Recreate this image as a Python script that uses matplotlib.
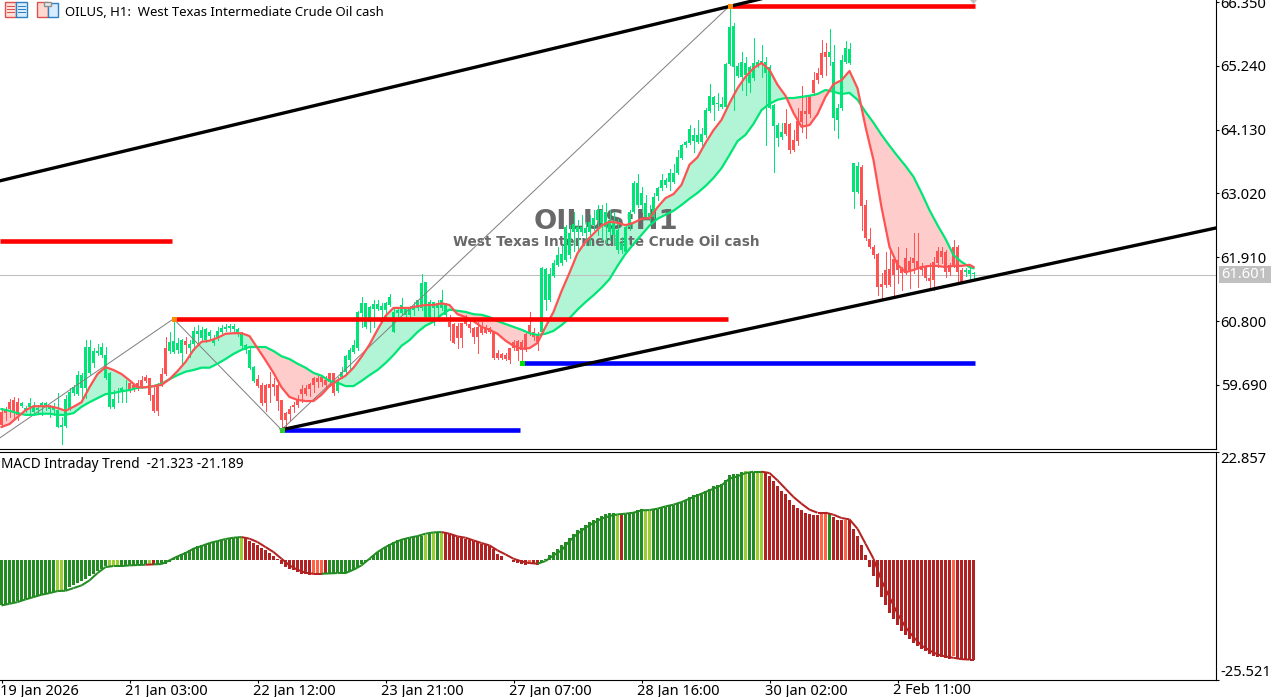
# plot.py - OILUS H1 chart with MA cloud and MACD pane

import matplotlib
matplotlib.use("Agg")
import matplotlib.pyplot as plt
from matplotlib.collections import LineCollection
from matplotlib.patches import Rectangle, Polygon
from matplotlib.transforms import ScaledTranslation
import numpy as np

W, H = 1285, 697
PANE_RIGHT = 1216
MAIN_BOTTOM = 449
SUB_TOP = 452
SUB_BOTTOM = 680

opens = [
    59.22,59.25,59.39,59.43,59.39,59.32,59.24,59.30,59.22,59.25,
    59.30,59.32,59.27,59.25,58.96,58.96,58.98,59.27,59.55,59.53,
    59.64,59.64,59.90,60.07,60.24,60.21,59.81,59.31,59.31,59.55,
    59.58,59.58,59.72,59.69,59.72,59.77,59.83,59.81,59.51,59.69,
    59.88,60.33,60.28,60.26,60.30,60.25,60.46,60.33,60.40,60.58,
    60.51,60.47,60.54,60.42,60.51,60.61,60.66,60.68,60.66,60.58,
    60.37,60.30,59.99,59.76,59.79,59.69,59.69,59.71,59.71,59.69,
    59.43,59.20,59.27,59.34,59.43,59.62,59.64,59.71,59.81,59.81,
    59.83,59.78,59.90,59.90,59.58,59.83,59.92,60.12,60.26,60.33,
    60.94,60.70,60.78,61.01,61.01,61.00,61.00,61.08,60.61,60.94,
    60.94,60.91,60.91,61.00,61.03,61.03,60.87,60.87,61.03,61.03,
    61.03,60.91,60.79,60.75,60.72,60.77,60.87,60.75,60.68,60.70,
    60.70,60.70,60.68,60.61,60.25,60.23,60.21,60.33,60.44,60.46,
    60.44,60.58,60.73,60.61,60.56,60.61,61.17,61.17,61.58,61.77,
    61.81,61.86,61.95,62.35,62.35,62.35,62.33,62.35,62.47,62.56,
    62.51,62.44,62.35,62.30,62.04,62.04,62.00,62.44,62.70,62.82,
    62.82,62.61,62.59,62.61,62.98,63.12,63.17,63.22,63.22,63.38,
    63.64,63.86,63.90,63.93,63.91,63.91,64.04,64.46,64.56,64.58,
    64.53,64.53,65.27,65.22,65.06,65.05,65.08,64.94,65.03,65.24,
    65.29,65.12,64.51,64.19,63.98,64.00,64.25,64.23,63.95,64.28,
    64.46,64.46,64.70,64.99,65.12,65.46,65.48,65.39,64.33,64.30,
    64.51,65.31,65.29,63.05,63.05,63.48,62.82,62.23,62.09,61.97,
    61.44,61.69,61.71,61.88,61.86,61.71,61.90,61.84,61.90,61.84,
    61.76,61.76,61.55,61.83,62.02,62.02,62.00,61.78,62.09,62.09,
    61.69,61.65,61.62,61.62,
]
highs = [
    59.29,59.30,59.45,59.48,59.46,59.39,59.32,59.46,59.39,59.34,
    59.39,59.39,59.34,59.37,59.55,59.13,59.51,59.64,59.69,59.93,
    59.90,60.47,60.47,60.33,60.40,60.42,60.35,59.92,59.60,59.64,
    59.65,59.77,59.74,59.71,59.77,59.85,59.86,59.81,59.69,59.72,
    59.98,60.52,60.61,60.84,60.51,60.49,60.52,60.47,60.70,60.73,
    60.70,60.68,60.65,60.56,60.70,60.73,60.75,60.75,60.75,60.68,
    60.61,60.40,60.35,60.02,59.86,59.72,59.71,59.92,59.81,59.77,
    59.43,59.22,59.32,59.39,59.52,59.69,59.69,59.72,59.83,59.85,
    59.86,59.85,59.90,59.90,59.83,60.00,60.21,60.33,60.47,60.97,
    61.22,61.12,61.07,61.17,61.17,61.12,61.14,61.27,61.03,61.05,
    61.20,61.04,61.07,61.14,61.17,61.62,61.48,61.17,61.14,61.17,
    61.34,61.12,60.91,60.77,60.77,60.77,60.91,60.82,60.70,60.79,
    60.79,60.73,60.70,60.61,60.30,60.25,60.25,60.33,60.47,60.47,
    60.47,60.61,60.96,60.68,60.61,61.74,61.72,61.72,61.86,62.09,
    62.12,62.47,62.47,62.70,62.56,62.65,62.53,62.65,62.73,62.82,
    62.82,62.86,62.73,62.70,62.58,62.26,62.47,62.73,63.24,63.36,
    63.13,63.00,62.82,63.02,63.13,63.36,63.29,63.45,63.53,63.78,
    63.88,63.93,64.21,64.16,64.30,64.16,64.51,64.92,64.72,64.77,
    64.70,65.29,66.30,65.98,65.29,65.48,65.39,65.24,65.72,65.34,
    65.60,65.39,65.26,64.58,64.25,64.25,64.49,64.25,64.12,64.51,
    64.89,64.70,64.73,65.13,65.20,65.69,65.64,65.88,65.60,64.58,
    65.43,65.67,65.64,63.55,63.57,63.52,62.91,62.42,62.12,61.98,
    61.64,62.00,62.09,61.88,62.09,61.74,62.07,61.92,62.33,62.33,
    61.81,61.78,61.81,61.92,62.09,62.09,62.04,61.81,62.21,62.12,
    61.72,61.72,61.72,61.65,
]
lows = [
    58.96,59.08,59.13,59.11,59.08,59.30,59.22,59.16,59.16,59.20,
    59.16,59.25,59.13,59.16,58.96,58.66,58.96,59.25,59.51,59.51,
    59.46,59.46,59.88,60.00,60.21,60.18,59.79,59.29,59.29,59.39,
    59.39,59.39,59.56,59.58,59.60,59.64,59.74,59.43,59.22,59.16,
    59.67,59.86,60.25,60.25,60.25,60.08,60.25,60.18,60.30,60.42,
    60.47,60.44,60.47,60.39,60.47,60.59,60.63,60.63,60.61,60.54,
    60.32,60.25,59.97,59.74,59.65,59.34,59.24,59.39,59.51,59.26,
    58.92,58.96,59.08,59.22,59.31,59.39,59.51,59.50,59.57,59.65,
    59.67,59.64,59.67,59.52,59.57,59.81,59.90,59.95,60.25,60.30,
    60.70,60.68,60.61,60.70,61.00,60.87,60.87,61.06,60.61,60.82,
    60.91,60.87,60.87,60.91,61.00,61.00,60.85,60.85,60.73,60.91,
    61.00,60.82,60.47,60.42,60.33,60.35,60.73,60.61,60.42,60.25,
    60.58,60.59,60.59,60.14,60.14,60.14,60.12,60.07,60.30,60.12,
    60.07,60.28,60.56,60.47,60.30,60.59,61.00,61.15,61.57,61.76,
    61.78,61.84,61.90,62.02,62.02,62.30,62.12,62.12,62.39,62.30,
    62.21,62.16,62.21,62.12,61.98,61.98,61.98,62.39,62.68,62.78,
    62.70,62.59,62.53,62.59,62.91,63.08,63.13,63.08,63.20,63.36,
    63.62,63.83,63.88,63.74,63.90,63.86,64.00,64.44,64.30,64.47,
    64.51,64.47,65.26,64.47,65.05,64.82,64.73,64.79,65.00,65.22,
    65.05,63.86,64.51,63.39,63.85,63.97,64.04,63.72,63.76,63.86,
    64.09,63.98,64.35,64.73,64.94,65.05,65.08,65.25,64.12,63.98,
    64.47,65.29,65.28,62.77,63.03,62.39,62.21,62.07,61.90,61.25,
    61.20,61.39,61.41,61.25,61.46,61.34,61.62,61.37,61.64,61.39,
    61.60,61.52,61.39,61.34,61.74,61.81,61.57,61.60,61.74,61.46,
    61.48,61.58,61.50,61.55,
]
closes = [
    58.99,59.20,59.27,59.22,59.16,59.37,59.29,59.37,59.30,59.29,
    59.37,59.37,59.32,59.30,59.25,58.99,59.45,59.57,59.65,59.86,
    59.86,60.35,60.35,60.28,60.28,60.35,60.21,59.90,59.45,59.57,
    59.64,59.60,59.60,59.64,59.62,59.65,59.76,59.51,59.24,59.24,
    59.67,59.88,60.44,60.46,60.42,60.47,60.39,60.40,60.63,60.63,
    60.65,60.66,60.61,60.47,60.63,60.68,60.70,60.72,60.72,60.66,
    60.59,60.39,60.30,60.00,59.67,59.37,59.37,59.64,59.65,59.41,
    59.08,59.08,59.18,59.31,59.34,59.53,59.53,59.62,59.69,59.74,
    59.74,59.69,59.74,59.55,59.74,59.92,60.19,60.30,60.39,60.96,
    61.12,61.12,61.04,61.10,61.10,61.07,61.12,61.22,60.96,61.00,
    61.08,61.04,61.03,61.04,61.17,61.46,61.48,61.14,61.14,61.11,
    61.17,61.08,60.70,60.42,60.51,60.51,60.75,60.68,60.52,60.52,
    60.59,60.59,60.61,60.16,60.16,60.16,60.14,60.12,60.33,60.28,
    60.30,60.30,60.59,60.52,60.44,61.72,61.70,61.62,61.81,61.95,
    61.97,62.44,62.33,62.49,62.44,62.44,62.42,62.53,62.60,62.73,
    62.73,62.70,62.56,62.53,62.39,62.16,62.44,62.70,63.20,63.20,
    63.03,62.85,62.68,62.96,63.12,63.26,63.26,63.38,63.38,63.65,
    63.86,63.91,64.14,64.04,64.04,64.05,64.47,64.72,64.70,64.60,
    64.58,65.27,65.92,65.93,65.24,65.31,65.29,65.22,65.29,65.31,
    65.32,65.31,65.22,64.56,64.21,64.09,64.05,63.78,63.78,63.93,
    64.26,64.40,64.40,64.77,64.99,65.08,65.39,65.48,65.31,64.51,
    65.34,65.55,65.53,63.55,63.50,62.80,62.25,62.09,61.95,61.39,
    61.39,61.43,61.43,61.60,61.69,61.64,61.64,61.69,61.81,61.72,
    61.69,61.55,61.50,61.52,61.81,61.92,61.65,61.65,61.78,61.65,
    61.48,61.69,61.69,61.64,
]

# the two moving averages and the MACD signal, read every second bar
line_bars = list(range(0, 243, 2)) + [243]
ma_fast = [
    58.96,59.01,59.13,59.25,59.32,59.32,59.32,59.29,59.24,59.31,
    59.39,59.65,59.88,60.00,59.95,59.88,59.77,59.65,59.65,59.67,
    59.69,59.79,59.93,60.09,60.30,60.44,60.46,60.51,60.58,60.59,
    60.59,60.54,60.33,60.12,59.90,59.65,59.48,59.43,59.41,59.41,
    59.52,59.67,59.77,59.85,59.99,60.18,60.39,60.65,60.89,61.03,
    61.03,61.03,61.06,61.08,61.08,61.11,61.08,60.92,60.87,60.80,
    60.70,60.65,60.58,60.46,60.37,60.32,60.33,60.42,60.70,60.96,
    61.32,61.64,61.98,62.18,62.32,62.46,62.53,62.51,62.47,62.51,
    62.58,62.59,62.78,62.94,63.01,63.17,63.52,63.65,63.90,64.12,
    64.30,64.59,64.85,65.05,65.20,65.29,65.17,64.91,64.72,64.42,
    64.18,64.21,64.40,64.70,64.92,64.99,65.15,64.85,64.18,63.60,
    62.78,62.09,61.78,61.65,61.69,61.74,61.76,61.76,61.74,61.76,
    61.76,61.78,61.74,
]
ma_slow = [
    59.27,59.24,59.20,59.17,59.17,59.19,59.19,59.17,59.17,59.20,
    59.31,59.39,59.46,59.53,59.55,59.58,59.60,59.64,59.65,59.67,
    59.71,59.79,59.86,59.92,59.95,59.99,59.99,60.06,60.14,60.23,
    60.30,60.35,60.35,60.35,60.28,60.19,60.14,60.06,59.99,59.90,
    59.85,59.76,59.73,59.67,59.67,59.76,59.86,59.95,60.07,60.21,
    60.37,60.47,60.61,60.72,60.79,60.91,61.00,60.98,60.96,60.92,
    60.91,60.87,60.80,60.75,60.70,60.65,60.59,60.56,60.58,60.63,
    60.73,60.85,61.00,61.13,61.25,61.38,61.53,61.76,61.97,62.14,
    62.30,62.46,62.58,62.65,62.72,62.82,62.93,63.03,63.15,63.29,
    63.46,63.69,63.93,64.04,64.23,64.47,64.58,64.65,64.68,64.68,
    64.70,64.72,64.75,64.82,64.79,64.75,64.77,64.65,64.44,64.25,
    64.04,63.85,63.67,63.50,63.31,63.03,62.73,62.47,62.23,61.95,
    61.83,61.74,61.72,
]

macd_hist = [
    -9.70,-9.48,-9.20,-8.99,-8.78,-8.56,-8.35,-8.14,-7.86,-7.64,
    -7.43,-7.22,-7.01,-6.86,-6.72,-6.72,-6.37,-5.80,-5.45,-4.95,
    -4.53,-4.03,-3.54,-2.97,-2.41,-1.91,-1.42,-1.34,-1.34,-1.20,
    -1.20,-1.20,-1.13,-1.06,-1.06,-0.99,-0.99,-0.99,-1.20,-0.99,
    -0.99,-0.85,-0.42,0.42,0.85,1.27,1.70,2.12,2.55,2.83,
    3.11,3.40,3.61,3.82,3.96,4.10,4.25,4.46,4.67,4.81,
    4.81,4.67,3.96,3.54,3.04,2.55,2.12,1.42,0.85,0.14,
    -0.99,-1.56,-1.91,-2.26,-2.62,-2.97,-3.11,-3.18,-3.18,-3.18,
    -3.18,-3.11,-2.97,-2.83,-2.76,-2.76,-2.62,-2.41,-2.12,-1.56,
    -0.99,-0.50,0.21,0.92,1.63,2.12,2.69,3.26,3.75,4.10,
    4.39,4.67,4.67,4.81,4.95,5.10,5.24,5.52,5.66,5.66,
    5.66,5.80,5.52,5.17,4.81,4.60,4.46,4.25,3.96,3.75,
    3.40,3.18,2.83,2.26,1.27,0.71,-0.14,-0.14,-0.57,-0.71,
    -0.99,-1.13,-0.85,-0.99,-1.13,-0.57,0.21,0.92,1.63,2.34,
    3.04,3.75,4.67,5.52,6.23,6.79,7.29,8.00,8.35,8.92,
    9.20,9.77,9.91,9.98,9.41,9.62,9.62,9.62,10.12,10.47,
    10.76,10.33,10.33,10.76,10.83,10.97,11.18,11.39,11.68,11.89,
    12.24,12.74,13.31,13.66,13.87,14.15,14.58,15.07,15.57,15.78,
    15.99,16.84,17.91,18.26,18.26,18.61,18.75,18.40,18.61,18.40,
    18.40,18.61,17.69,16.70,15.57,14.58,13.87,12.60,11.54,11.04,
    10.47,9.91,9.62,9.48,9.48,9.77,9.77,9.91,9.06,8.49,
    8.35,8.49,8.49,6.44,4.95,3.04,0.92,-1.56,-3.54,-5.80,
    -7.93,-9.70,-11.32,-12.67,-13.94,-15.15,-16.07,-16.77,-17.62,-18.40,
    -19.04,-19.46,-20.10,-20.45,-20.59,-20.67,-20.81,-21.02,-20.45,-20.88,
    -21.23,-21.30,-21.23,-21.32,
]
# state of each histogram bar as (count, state)
macd_states = [
    (14,"g"),(2,"l"),(11,"g"),(3,"l"),(7,"g"),(1,"l"),(1,"r"),(21,"g"),(1,"l"),
    (17,"r"),(3,"o"),(1,"r"),(24,"g"),(1,"l"),(1,"g"),(1,"l"),(1,"g"),(1,"l"),
    (21,"r"),(1,"o"),(2,"r"),(19,"g"),(1,"l"),(1,"r"),(5,"g"),(2,"l"),(23,"g"),
    (1,"l"),(2,"g"),(2,"l"),(14,"r"),(2,"o"),(1,"g"),(3,"r"),(1,"o"),(26,"r"),
    (1,"o"),(5,"r"),
]
macd_signal = [
    -9.70,-9.34,-8.99,-8.42,-7.93,-7.43,-7.08,-6.65,-6.58,-6.02,
    -5.45,-4.39,-2.83,-1.56,-1.34,-1.34,-1.20,-1.13,-1.06,-0.99,
    -0.92,-0.14,0.71,1.42,2.34,2.90,3.54,3.96,4.39,4.67,
    4.81,4.46,3.75,2.69,1.63,0.21,-1.20,-2.12,-2.76,-2.97,
    -2.97,-2.90,-2.83,-2.83,-2.12,-1.20,0.21,1.63,2.69,3.54,
    4.25,4.67,5.02,5.52,5.80,5.87,5.52,4.95,4.67,4.10,
    3.54,3.04,1.98,1.13,0.21,-0.35,-0.71,-0.85,-0.28,0.92,
    1.98,3.96,5.52,6.79,7.78,8.70,9.27,9.62,9.77,9.98,
    10.47,10.54,10.83,11.32,11.68,12.24,12.95,13.66,14.37,15.07,
    15.78,17.20,17.69,18.40,18.68,18.68,18.40,16.84,15.07,13.31,
    11.89,10.62,9.98,9.98,9.55,8.85,8.56,6.58,3.40,0.21,
    -4.39,-7.93,-11.46,-14.30,-16.42,-18.19,-19.25,-20.10,-20.52,-20.81,
    -21.09,-21.19,-21.19,
]

price_ticks = [66.35, 65.24, 64.13, 63.02, 61.91, 60.80, 59.69]
last_price = 61.601
macd_range = [22.857, -25.521]
time_tick_bars = [0, 32, 64, 96, 128, 160, 192, 224]
time_labels = ["19 Jan 2026", "21 Jan 03:00", "22 Jan 12:00", "23 Jan 21:00",
               "27 Jan 07:00", "28 Jan 16:00", "30 Jan 02:00", "2 Feb 11:00"]

# drawn objects on the chart, (bar, price)
zigzag_bars = [-0.4, 43, 70, 182]
zigzag_prices = [58.77, 60.84, 58.91, 66.28]
upper_trend_bars = [-0.4, 192]
upper_trend_prices = [63.24, 66.44]
lower_trend_bars = [70, 303.6]
lower_trend_prices = [58.91, 62.42]
red_levels = [(-0.4, 42.6, 62.19), (42.6, 181.5, 60.84), (181.5, 243.4, 66.28)]
blue_levels = [(70, 129.6, 58.91), (129.6, 243.4, 60.07)]
pivot_dots = [(43, 60.84, "#ff8c00"), (70, 58.91, "#32cd32"),
              (130, 60.07, "#00e000"), (182, 66.28, "#ff8c00")]

UP = "#00e676"
DOWN = "#ff5252"
STATE_COLORS = {"g": "#228b22", "l": "#9acd32", "r": "#b22222", "o": "#ff6347"}
FONT = "Noto Sans"
BAR_WIDTH = 0.75  # 3 px of the 4 px a bar takes


def bar_xlim():
    # one bar is 4 pixels wide, first bar centred on 1.5 px
    return (0 - 1.5) / 4, (PANE_RIGHT - 1.5) / 4


def setup_pane(ax):
    ax.set_xlim(*bar_xlim())
    ax.yaxis.tick_right()
    ax.spines["left"].set_visible(False)
    ax.spines["top"].set_visible(False)
    for s in ax.spines.values():
        s.set_linewidth(0.8)


def draw_main(ax):
    setup_pane(ax)
    ax.set_ylim(58.576, 66.385)
    ax.set_xticks([])
    ax.set_yticks(price_ticks)
    ax.set_yticklabels(["%.3f" % p for p in price_ticks], fontsize=10.6, family=FONT)
    ax.tick_params(axis="y", length=2.5, width=0.8, pad=0.8)

    o, h, l, c = map(np.array, (opens, highs, lows, closes))
    bars = np.arange(len(o))
    colors = np.where(c >= o, UP, DOWN)

    mx = np.array(line_bars)
    fast = np.array(ma_fast)
    slow = np.array(ma_slow)
    ax.fill_between(mx, fast, slow, where=fast >= slow, interpolate=True,
                    color="#b2f5d6", lw=0, zorder=1)
    ax.fill_between(mx, fast, slow, where=fast <= slow, interpolate=True,
                    color="#ffcccc", lw=0, zorder=1)

    ax.axhline(last_price, color="#c0c0c0", lw=0.8, zorder=1.2)
    # watermark sits over the cloud but under the candles
    ax.text(151, 62.52, "OILUS:H1", ha="center", va="center", fontsize=19.7,
            fontweight="bold", color="#696969", zorder=1.5)
    ax.text(151.3, 62.18, "West Texas Intermediate Crude Oil cash", ha="center", va="center",
            fontsize=9.8, fontweight="bold", color="#696969", zorder=1.5)

    ax.vlines(bars, l, h, colors=colors, lw=0.72, zorder=3, antialiased=False)
    ax.bar(bars, np.maximum(np.abs(c - o), 0.02), bottom=np.minimum(o, c), width=BAR_WIDTH,
           color=colors, lw=0, zorder=3, antialiased=False)

    ax.plot(zigzag_bars, zigzag_prices, color="#808080", lw=0.72, zorder=4)
    ax.plot(mx, slow, color=UP, lw=1.6, zorder=5)
    ax.plot(mx, fast, color=DOWN, lw=1.6, zorder=5)

    for x0, x1, p in red_levels:
        ax.plot([x0, x1], [p, p], color="#ff0000", lw=3.3, solid_capstyle="butt", zorder=6)
    for x0, x1, p in blue_levels:
        ax.plot([x0, x1], [p, p], color="#0000ff", lw=3.3, solid_capstyle="butt", zorder=6)
    ax.plot(upper_trend_bars, upper_trend_prices, color="black", lw=2.4, zorder=7)
    ax.plot(lower_trend_bars, lower_trend_prices, color="black", lw=2.4, zorder=7)
    for b, p, col in pivot_dots:
        ax.plot([b], [p], marker="s", ms=3.6, color=col, mew=0, zorder=8)


def draw_macd(ax):
    setup_pane(ax)
    ax.set_ylim(macd_range[1], macd_range[0])
    ax.set_yticks(macd_range)
    ax.set_yticklabels(["%.3f" % v for v in macd_range], fontsize=10.6, family=FONT)
    ax.tick_params(axis="y", length=2.5, width=0.8, pad=0.8)
    labels = ax.get_yticklabels()
    labels[0].set_va("top")
    labels[1].set_va("bottom")

    states = [s for n, s in macd_states for _ in range(n)]
    bars = np.arange(len(macd_hist))
    ax.bar(bars, macd_hist, width=BAR_WIDTH, color=[STATE_COLORS[s] for s in states],
           lw=0, zorder=2, antialiased=False)

    # signal line takes green or red from the bar underneath
    pts = list(zip(line_bars, macd_signal))
    segs = [[pts[i], pts[i + 1]] for i in range(len(pts) - 1)]
    seg_cols = [STATE_COLORS["g"] if states[line_bars[i + 1]] in "gl" else STATE_COLORS["r"]
                for i in range(len(segs))]
    ax.add_collection(LineCollection(segs, colors=seg_cols, linewidths=1.45, zorder=3))

    ax.set_xticks(time_tick_bars)
    ax.set_xticklabels(time_labels, fontsize=10.5, family=FONT, ha="left")
    ax.tick_params(axis="x", length=2.5, width=0.8, pad=0)
    for i, lab in enumerate(ax.get_xticklabels()):
        shift = ScaledTranslation((-1.5 if i == 0 else -4.5) / 100, 0, ax.figure.dpi_scale_trans)
        lab.set_transform(lab.get_transform() + shift)


def px_rect(fig, x, y, w, h, **kw):
    fig.add_artist(Rectangle((x / W, 1 - (y + h) / H), w / W, h / H,
                             transform=fig.transFigure, lw=kw.pop("lw", 0), **kw))


def draw_header(fig):
    # list icon
    px_rect(fig, 5, 2, 11, 15, fc="#ffe0d8", ec="#d9534f", lw=1)
    px_rect(fig, 16, 2, 11, 15, fc="#d8ecff", ec="#2f7fc1", lw=1)
    for yy in (6, 9, 12):
        px_rect(fig, 7, yy, 8, 1, fc="#d9534f")
        px_rect(fig, 18, yy, 8, 1, fc="#2f7fc1")
    # templates icon
    px_rect(fig, 37, 2, 11, 15, fc="#ffd8d0", ec="#d9534f", lw=1)
    px_rect(fig, 48, 3, 10, 14, fc="#d8ecff", ec="#2f7fc1", lw=1)
    px_rect(fig, 44, 2, 7, 4, fc="#e8e8e8", ec="#909090", lw=1)

    fig.text(65 / W, 1 - 12 / H, "OILUS, H1:  West Texas Intermediate Crude Oil cash",
             fontsize=9.45, family=FONT, va="center", ha="left", color="black")
    fig.text(1 / W, 1 - 465 / H, "MACD Intraday Trend  -21.323 -21.189",
             fontsize=9.8, family=FONT, va="center", ha="left", color="black")

    # last price tag
    px_rect(fig, 1219, 266, 52, 17, fc="#c0c0c0", zorder=10)
    fig.text(1221 / W, 1 - 275 / H, "%.3f" % last_price, fontsize=10.6, family=FONT,
             va="center", ha="left", color="white", zorder=11)

    # chart shift marker
    fig.add_artist(Polygon([[970 / W, 1], [977 / W, 1], [973.5 / W, 1 - 4 / H]],
                           closed=True, fc="#c0c0c0", lw=0, transform=fig.transFigure))


def main():
    fig = plt.figure(figsize=(W / 100, H / 100), dpi=100, facecolor="white")
    ax_main = fig.add_axes([0, 1 - MAIN_BOTTOM / H, PANE_RIGHT / W, MAIN_BOTTOM / H])
    ax_macd = fig.add_axes([0, 1 - SUB_BOTTOM / H, PANE_RIGHT / W, (SUB_BOTTOM - SUB_TOP) / H])
    draw_main(ax_main)
    draw_macd(ax_macd)
    ax_macd.spines["top"].set_visible(True)
    draw_header(fig)
    fig.savefig("out.png", dpi=100)
    plt.close(fig)


if __name__ == "__main__":
    main()
